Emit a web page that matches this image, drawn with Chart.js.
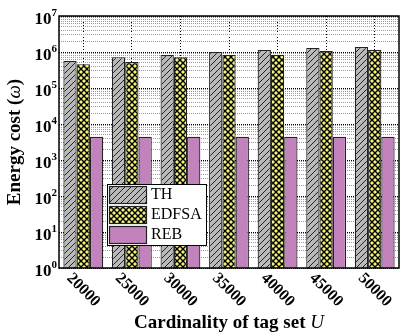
<!DOCTYPE html>
<html>
<head>
  <meta charset="utf-8">
  <title>Energy cost</title>
  <script src="https://cdn.jsdelivr.net/npm/chart.js"></script>
  <style>
    body {
      margin: 0;
      padding: 0;
      background: #fff;
    }

    #chart-container {
      width: 400px;
      height: 333px;
    }
  </style>
</head>
<body>

  <div id="chart-container">
    <canvas id="myChart"></canvas>
  </div>

  <script>
    // data
    const labels = ['20000', '25000', '30000', '35000', '40000', '45000', '50000'];
    const thCost = [5.6e5, 7.2e5, 8.3e5, 1.0e6, 1.14e6, 1.3e6, 1.38e6];
    const edfsaCost = [4.6e5, 5.3e5, 7.2e5, 8.3e5, 8.4e5, 1.07e6, 1.14e6];
    const rebCost = [4.4e3, 4.4e3, 4.4e3, 4.4e3, 4.4e3, 4.4e3, 4.4e3];
    const yExponents = [0, 1, 2, 3, 4, 5, 6, 7];

    const serif = '"Liberation Serif", "Times New Roman", serif';

    function makePattern(bg, draw) {
      const c = document.createElement('canvas');
      c.width = 6;
      c.height = 6;
      const g = c.getContext('2d');
      g.fillStyle = bg;
      g.fillRect(0, 0, 6, 6);
      draw(g);
      return g.createPattern(c, 'repeat');
    }

    const hatchGray = makePattern('#b9b9b9', g => {
      g.strokeStyle = '#222';
      g.lineWidth = 1;
      g.beginPath();
      g.moveTo(-1, 7); g.lineTo(7, -1);
      g.moveTo(-4, 4); g.lineTo(4, -4);
      g.moveTo(2, 10); g.lineTo(10, 2);
      g.stroke();
    });

    const crossYellow = makePattern('#f2f27a', g => {
      g.strokeStyle = '#000';
      g.lineWidth = 1.4;
      g.beginPath();
      g.moveTo(0, 0); g.lineTo(6, 6);
      g.moveTo(6, 0); g.lineTo(0, 6);
      g.stroke();
    });

    // ticks 1..9 x 10^n so the minor grid lines show
    const logTicks = [];
    for (let e = 0; e < 7; e++) {
      for (let m = 1; m < 10; m++) logTicks.push({ value: m * Math.pow(10, e), major: m === 1 });
    }
    logTicks.push({ value: 1e7, major: true });

    const decorations = {
      id: 'decorations',
      afterDraw(chart) {
        const ctx = chart.ctx;
        const area = chart.chartArea;
        const xs = chart.scales.x;
        const ys = chart.scales.y;
        ctx.save();

        // frame
        ctx.strokeStyle = '#000';
        ctx.lineWidth = 1.5;
        ctx.strokeRect(area.left, area.top, area.right - area.left, area.bottom - area.top);

        // y tick labels 10^n
        ctx.fillStyle = '#000';
        ctx.textBaseline = 'middle';
        yExponents.forEach(e => {
          const y = ys.getPixelForValue(Math.pow(10, e));
          ctx.font = 'bold 11px ' + serif;
          const ew = ctx.measureText(String(e)).width;
          ctx.textAlign = 'left';
          ctx.fillText(String(e), area.left - 2 - ew, y - 3);
          ctx.font = 'bold 17px ' + serif;
          ctx.textAlign = 'right';
          ctx.fillText('10', area.left - 2 - ew, y + 4);
        });

        // x tick labels, turned 45 deg
        ctx.font = 'bold 16px ' + serif;
        ctx.textAlign = 'center';
        labels.forEach((lab, i) => {
          const x = xs.getPixelForValue(i);
          ctx.save();
          ctx.translate(x, area.bottom + 22);
          ctx.rotate(Math.PI / 4);
          ctx.fillText(lab, 0, 0);
          ctx.restore();
        });

        // x title
        ctx.textAlign = 'left';
        ctx.textBaseline = 'alphabetic';
        const p1 = 'Cardinality of tag set ';
        ctx.font = 'bold 19px ' + serif;
        const w1 = ctx.measureText(p1).width;
        ctx.font = 'italic 19px ' + serif;
        const w2 = ctx.measureText('U').width;
        let x0 = (area.left + area.right) / 2 - (w1 + w2) / 2;
        ctx.font = 'bold 19px ' + serif;
        ctx.fillText(p1, x0, 328);
        ctx.font = 'italic 19px ' + serif;
        ctx.fillText('U', x0 + w1, 328);

        // y title
        ctx.save();
        ctx.translate(20, (area.top + area.bottom) / 2);
        ctx.rotate(-Math.PI / 2);
        const parts = [['Energy cost (', 'bold'], ['\u03c9', 'italic'], [')', 'bold']];
        let total = 0;
        parts.forEach(p => { ctx.font = p[1] + ' 19px ' + serif; total += ctx.measureText(p[0]).width; });
        let cx = -total / 2;
        parts.forEach(p => {
          ctx.font = p[1] + ' 19px ' + serif;
          ctx.fillText(p[0], cx, 0);
          cx += ctx.measureText(p[0]).width;
        });
        ctx.restore();

        // legend
        ctx.fillStyle = '#fff';
        ctx.fillRect(107, 184, 99, 61);
        ctx.strokeStyle = '#000';
        ctx.lineWidth = 1;
        ctx.strokeRect(107.5, 184.5, 99, 61);
        ctx.font = '16px ' + serif;
        ctx.textBaseline = 'middle';
        chart.data.datasets.forEach((ds, i) => {
          const top = 186 + i * 20;
          ctx.fillStyle = ds.backgroundColor;
          ctx.fillRect(109, top, 37, 17);
          ctx.lineWidth = 1.2;
          ctx.strokeStyle = '#222';
          ctx.strokeRect(109.5, top + 0.5, 37, 17);
          ctx.fillStyle = '#000';
          ctx.fillText(ds.label, 151, top + 9);
        });

        ctx.restore();
      }
    };

    const ctx = document.getElementById('myChart').getContext('2d');
    const chart = new Chart(ctx, {
      type: 'bar',
      data: {
        labels: labels,
        datasets: [{
          label: 'TH',
          data: thCost,
          backgroundColor: hatchGray,
          borderColor: '#222',
          borderWidth: 1.2
        }, {
          label: 'EDFSA',
          data: edfsaCost,
          backgroundColor: crossYellow,
          borderColor: '#222',
          borderWidth: 1.2
        }, {
          label: 'REB',
          data: rebCost,
          backgroundColor: '#c283bd',
          borderColor: '#222',
          borderWidth: 1.2
        }]
      },
      options: {
        responsive: true,
        maintainAspectRatio: false,
        animation: false,
        layout: { padding: { top: 16, right: 1, left: 0, bottom: 0 } },
        datasets: {
          bar: { categoryPercentage: 0.82, barPercentage: 1.0 }
        },
        plugins: {
          legend: { display: false },
          tooltip: { enabled: false }
        },
        scales: {
          x: {
            ticks: { display: false },
            grid: { offset: false, color: '#000', drawTicks: false },
            border: { display: false, dash: [1, 2] },
            afterFit(scale) { scale.height = 65; }
          },
          y: {
            type: 'logarithmic',
            min: 1,
            max: 1e7,
            ticks: { display: false, autoSkip: false },
            afterBuildTicks(scale) { scale.ticks = logTicks.map(t => ({ value: t.value, major: t.major })); },
            grid: {
              drawTicks: false,
              color: c => (c.tick && c.tick.major) ? '#000' : '#9a9a9a',
              lineWidth: 1
            },
            border: { display: false, dash: [1, 1] },
            afterFit(scale) { scale.width = 59; }
          }
        }
      },
      plugins: [decorations]
    });
  </script>

</body>
</html>
